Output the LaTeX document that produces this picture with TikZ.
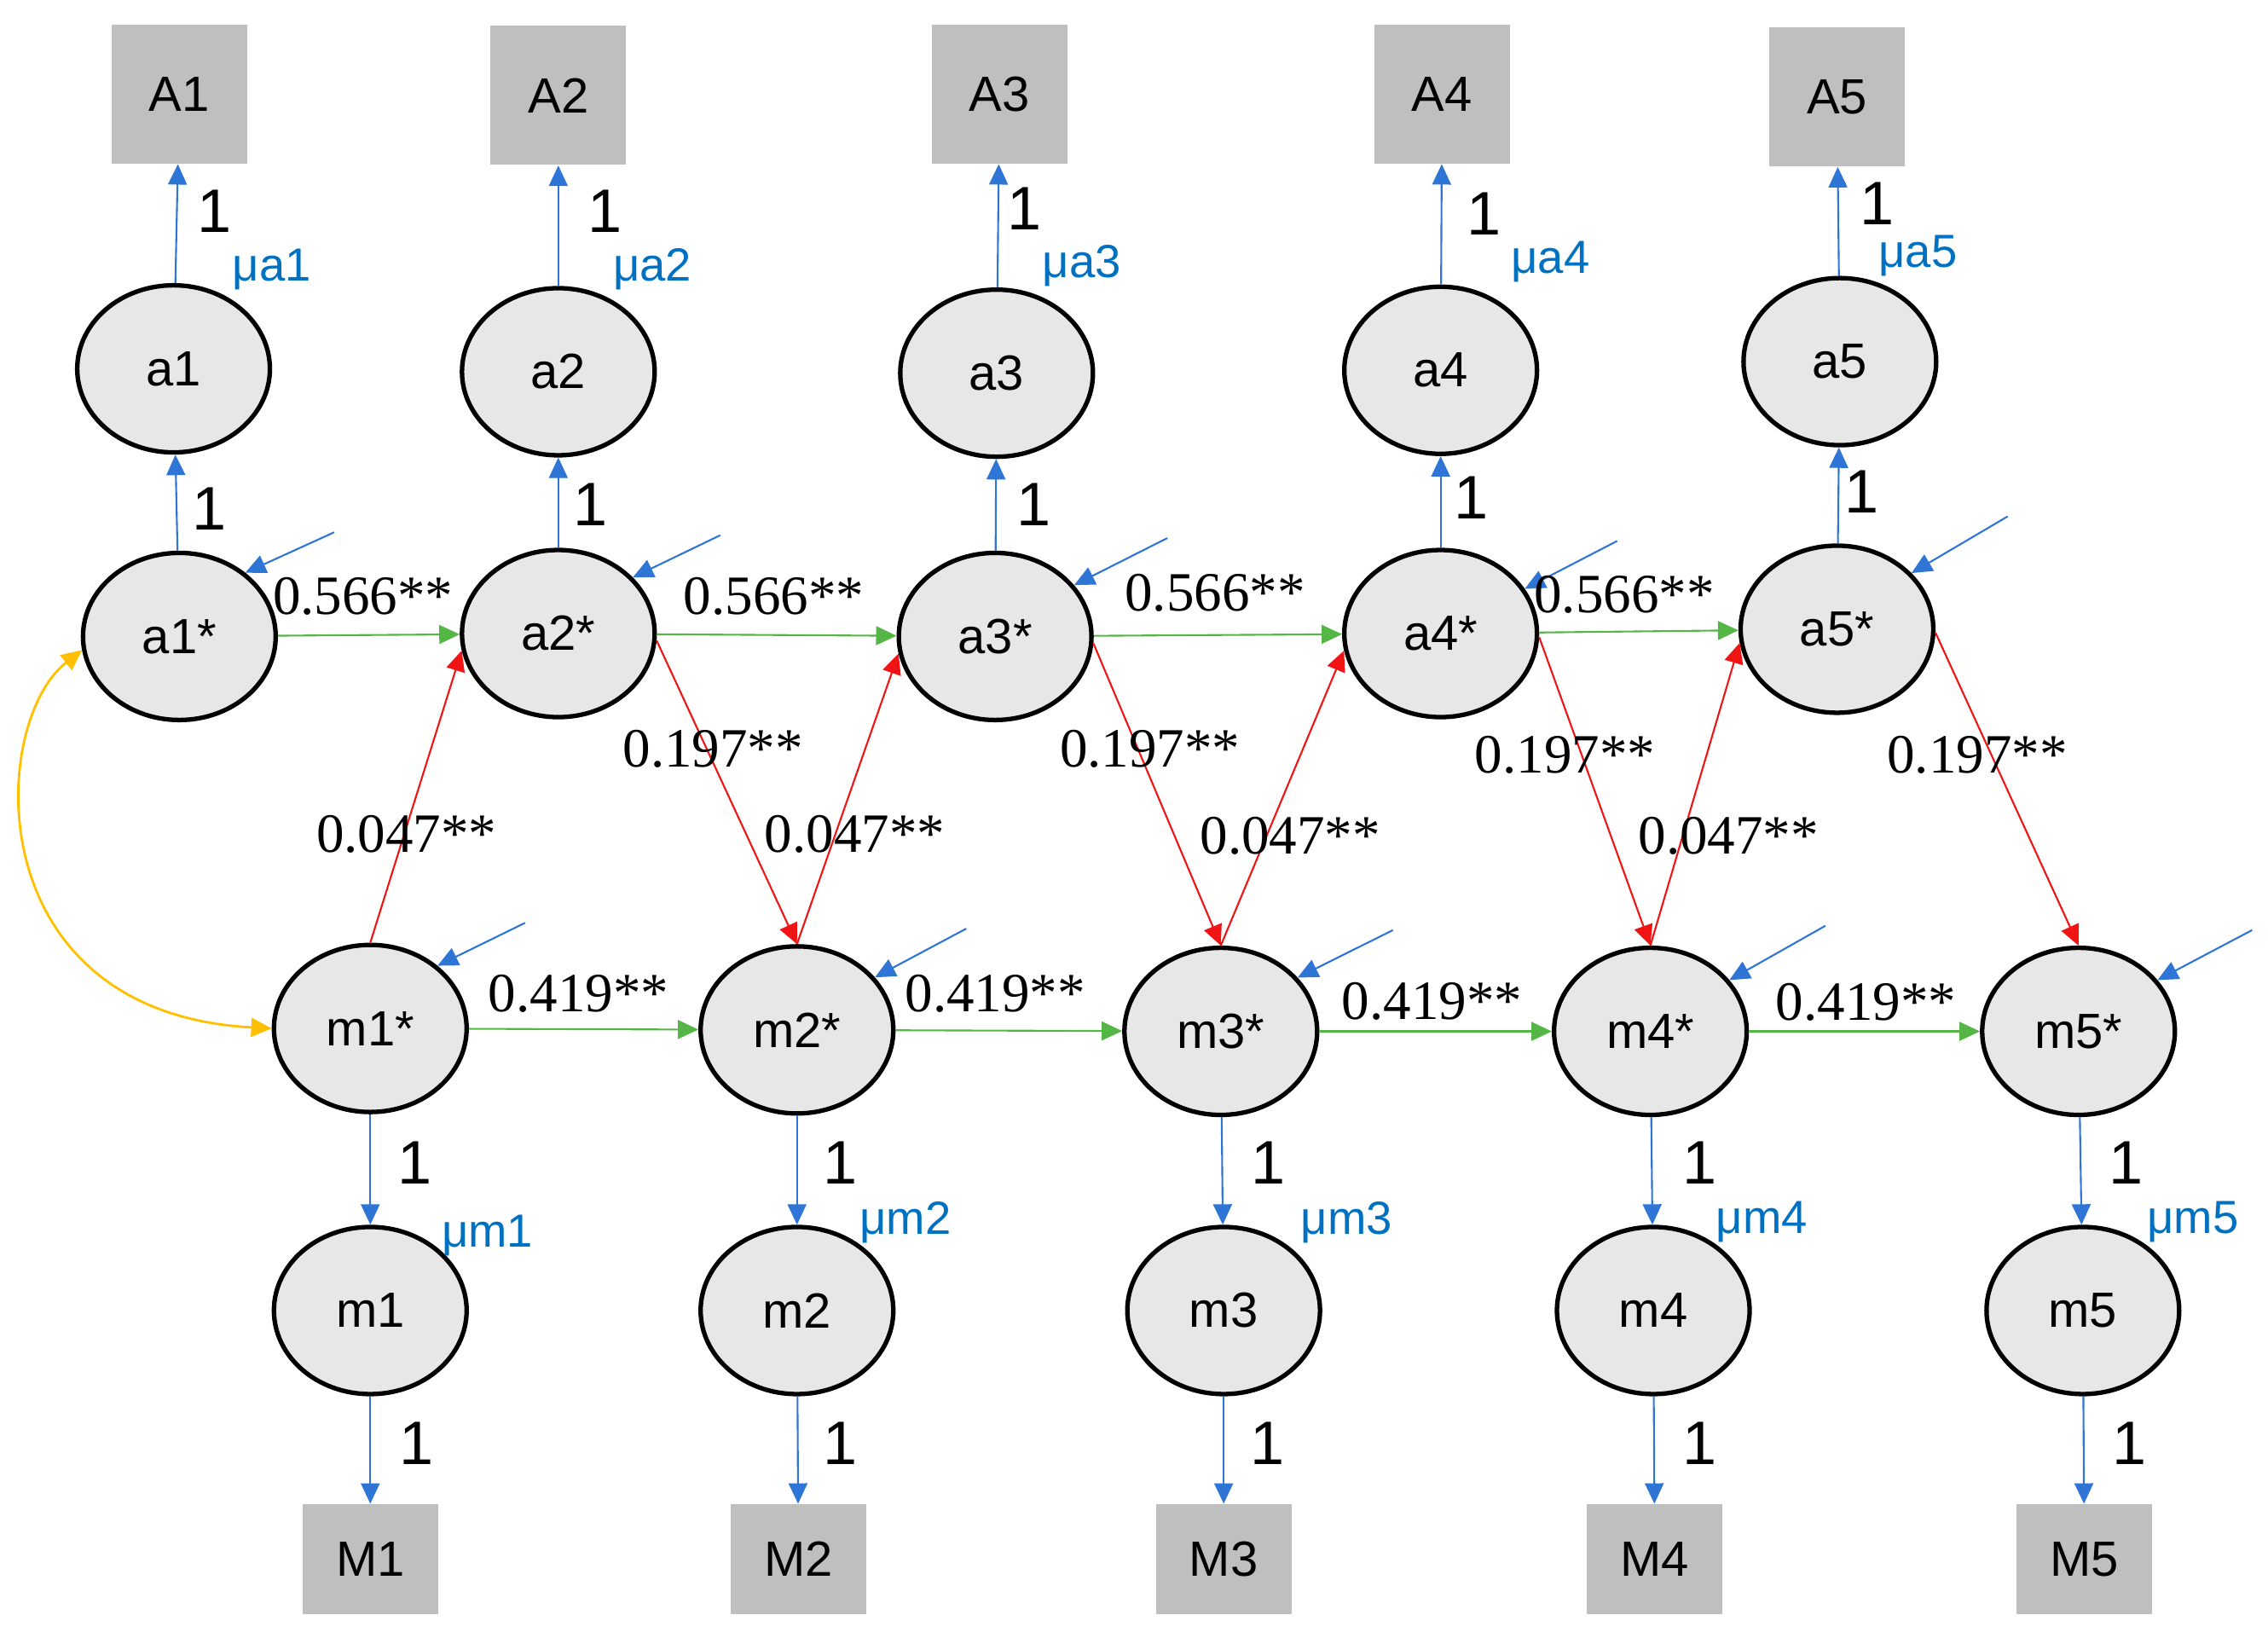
\documentclass[tikz,border=0pt]{standalone}
\usepackage{fontspec}
\setmainfont{Liberation Serif}
\setsansfont{Liberation Sans}
\usetikzlibrary{arrows.meta,shapes.geometric}

\definecolor{loadblue}{RGB}{46,117,214}
\definecolor{mublue}{RGB}{0,112,192}
\definecolor{laggreen}{RGB}{84,182,68}
\definecolor{crossred}{RGB}{240,20,20}
\definecolor{covyellow}{RGB}{255,192,0}
\definecolor{obsgray}{RGB}{191,191,191}
\definecolor{latgray}{RGB}{231,231,231}

\begin{document}
\begin{tikzpicture}[
  x=0.16964mm, y=-0.16964mm,
  font=\sffamily,
  obs/.style={fill=obsgray, minimum width=15.9mm, minimum height=16.3mm, inner sep=0pt,
              font=\sffamily\fontsize{16.5}{19}\selectfont},
  obsm/.style={obs, minimum height=12.9mm},
  latent/.style={ellipse, draw=black, line width=1.5pt, fill=latgray, minimum width=22.6mm,
                 minimum height=19.6mm, inner sep=0pt, font=\sffamily\fontsize{16.5}{19}\selectfont},
  load/.style={-{Triangle[length=2.4mm, width=2.2mm]}, line width=0.6pt, loadblue},
  resid/.style={load},
  lag/.style={load, laggreen},
  crosslag/.style={load, crossred},
  cov/.style={{Triangle[length=2.4mm, width=2.2mm]}-{Triangle[length=2.4mm, width=2.2mm]},
              line width=0.8pt, covyellow},
  unit/.style={font=\sffamily\fontsize{20.5}{24}\selectfont, inner sep=1pt},
  mean/.style={font=\sffamily\fontsize{15.5}{18}\selectfont, text=mublue, inner sep=1pt},
  coef/.style={font=\rmfamily\fontsize{18.5}{22}\selectfont},
]
  \useasboundingbox (0,0) rectangle (1568,1132);

  % observed A scores and their latent parts
  \node[obs] (A1) at (124,65) {A1};
  \node[obs] (A2) at (386,66) {A2};
  \node[obs] (A3) at (691,65) {A3};
  \node[obs] (A4) at (997,65) {A4};
  \node[obs] (A5) at (1270,67) {A5};
  \node[latent] (a1) at (120,255) {a1};
  \node[latent] (a2) at (386,257) {a2};
  \node[latent] (a3) at (689,258) {a3};
  \node[latent] (a4) at (996,256) {a4};
  \node[latent] (a5) at (1272,250) {a5};
  \node[latent] (as1) at (124,440) {a1*};
  \node[latent] (as2) at (386,438) {a2*};
  \node[latent] (as3) at (688,440) {a3*};
  \node[latent] (as4) at (996,438) {a4*};
  \node[latent] (as5) at (1270,435) {a5*};

  % latent m parts and observed M scores
  \node[latent] (ms1) at (256,711) {m1*};
  \node[latent] (ms2) at (551,712) {m2*};
  \node[latent] (ms3) at (844,713) {m3*};
  \node[latent] (ms4) at (1141,713) {m4*};
  \node[latent] (ms5) at (1437,713) {m5*};
  \node[latent] (m1) at (256,906) {m1};
  \node[latent] (m2) at (551,906) {m2};
  \node[latent] (m3) at (846,906) {m3};
  \node[latent] (m4) at (1143,906) {m4};
  \node[latent] (m5) at (1440,906) {m5};
  \node[obsm] (M1) at (256,1078) {M1};
  \node[obsm] (M2) at (552,1078) {M2};
  \node[obsm] (M3) at (846,1078) {M3};
  \node[obsm] (M4) at (1144,1078) {M4};
  \node[obsm] (M5) at (1441,1078) {M5};

  % fixed loadings
  \draw[load] (a1) -- (A1);
  \draw[load] (a2) -- (A2);
  \draw[load] (a3) -- (A3);
  \draw[load] (a4) -- (A4);
  \draw[load] (a5) -- (A5);
  \draw[load] (as1) -- (a1);
  \draw[load] (as2) -- (a2);
  \draw[load] (as3) -- (a3);
  \draw[load] (as4) -- (a4);
  \draw[load] (as5) -- (a5);
  \draw[load] (ms1) -- (m1);
  \draw[load] (ms2) -- (m2);
  \draw[load] (ms3) -- (m3);
  \draw[load] (ms4) -- (m4);
  \draw[load] (ms5) -- (m5);
  \draw[load] (m1) -- (M1);
  \draw[load] (m2) -- (M2);
  \draw[load] (m3) -- (M3);
  \draw[load] (m4) -- (M4);
  \draw[load] (m5) -- (M5);
  \node[unit] (ua1) at (148,146) {1};
  \node[unit] (ua2) at (418,146) {1};
  \node[unit] (ua3) at (708,144) {1};
  \node[unit] (ua4) at (1026,148) {1};
  \node[unit] (ua5) at (1298,141) {1};
  \node[unit] (uas1) at (145,352) {1};
  \node[unit] (uas2) at (408,349) {1};
  \node[unit] (uas3) at (715,349) {1};
  \node[unit] (uas4) at (1017,344) {1};
  \node[unit] (uas5) at (1287,340) {1};
  \node[unit] (ums1) at (287,804) {1};
  \node[unit] (ums2) at (581,804) {1};
  \node[unit] (ums3) at (877,804) {1};
  \node[unit] (ums4) at (1175,804) {1};
  \node[unit] (ums5) at (1470,804) {1};
  \node[unit] (um1) at (288,998) {1};
  \node[unit] (um2) at (581,998) {1};
  \node[unit] (um3) at (876,998) {1};
  \node[unit] (um4) at (1175,998) {1};
  \node[unit] (um5) at (1472,998) {1};
  \node[mean] (mua1) at (188,186) {μa1};
  \node[mean] (mua2) at (451,186) {μa2};
  \node[mean] (mua3) at (748,184) {μa3};
  \node[mean] (mua4) at (1072,181) {μa4};
  \node[mean] (mua5) at (1326,177) {μa5};
  \node[mean] (mum1) at (337,854) {μm1};
  \node[mean] (mum2) at (626,845) {μm2};
  \node[mean] (mum3) at (931,845) {μm3};
  \node[mean] (mum4) at (1218,845) {μm4};
  \node[mean] (mum5) at (1516,845) {μm5};

  % residual terms
  \coordinate (eas1) at (231,368);
  \coordinate (eas2) at (498,370);
  \coordinate (eas3) at (807,372);
  \coordinate (eas4) at (1118,374);
  \coordinate (eas5) at (1388,357);
  \coordinate (ems1) at (363,638);
  \coordinate (ems2) at (668,642);
  \coordinate (ems3) at (963,643);
  \coordinate (ems4) at (1262,640);
  \coordinate (ems5) at (1557,643);
  \draw[resid] (eas1) -- (as1.44);
  \draw[resid] (eas2) -- (as2.37);
  \draw[resid] (eas3) -- (as3.33);
  \draw[resid] (eas4) -- (as4.28);
  \draw[resid] (eas5) -- (as5.37);
  \draw[resid] (ems1) -- (ms1.43);
  \draw[resid] (ems2) -- (ms2.34);
  \draw[resid] (ems3) -- (ms3.35);
  \draw[resid] (ems4) -- (ms4.33);
  \draw[resid] (ems5) -- (ms5.33);

  % autoregressive paths
  \draw[lag] (as1) -- (as2);
  \draw[lag] (as2) -- (as3);
  \draw[lag] (as3) -- (as4);
  \draw[lag] (as4) -- (as5);
  \draw[lag] (ms1) -- (ms2);
  \draw[lag] (ms2) -- (ms3);
  \draw[lag] (ms3) -- (ms4);
  \draw[lag] (ms4) -- (ms5);
  \node[coef] (ca1) at (251,412) {0.566**};
  \node[coef] (ca2) at (535,412) {0.566**};
  \node[coef] (ca3) at (840,410) {0.566**};
  \node[coef] (ca4) at (1123,411) {0.566**};
  \node[coef] (cm1) at (400,687) {0.419**};
  \node[coef] (cm2) at (688,687) {0.419**};
  \node[coef] (cm3) at (990,692) {0.419**};
  \node[coef] (cm4) at (1290,693) {0.419**};

  % cross-lagged paths
  \draw[crosslag] (ms1.north) -- (as2.190);
  \draw[crosslag] (ms2.north) -- (as3.190);
  \draw[crosslag] (ms3.north) -- (as4.190);
  \draw[crosslag] (ms4.north) -- (as5.188);
  \draw[crosslag] (as2.-4) -- (ms2.north);
  \draw[crosslag] (as3.-4) -- (ms3.north);
  \draw[crosslag] (as4.-2) -- (ms4.north);
  \draw[crosslag] (as5.-2) -- (ms5.north);
  \node[coef] (cx1) at (493,518) {0.197**};
  \node[coef] (cx2) at (795,518) {0.197**};
  \node[coef] (cx3) at (1082,522) {0.197**};
  \node[coef] (cx4) at (1367,522) {0.197**};
  \node[coef] (cy1) at (281,577) {0.047**};
  \node[coef] (cy2) at (591,577) {0.047**};
  \node[coef] (cy3) at (892,578) {0.047**};
  \node[coef] (cy4) at (1195,578) {0.047**};

  % initial covariance
  \draw[cov] (as1.188) .. controls (-8,500) and (-16,700) .. (ms1.west);
\end{tikzpicture}
\end{document}
